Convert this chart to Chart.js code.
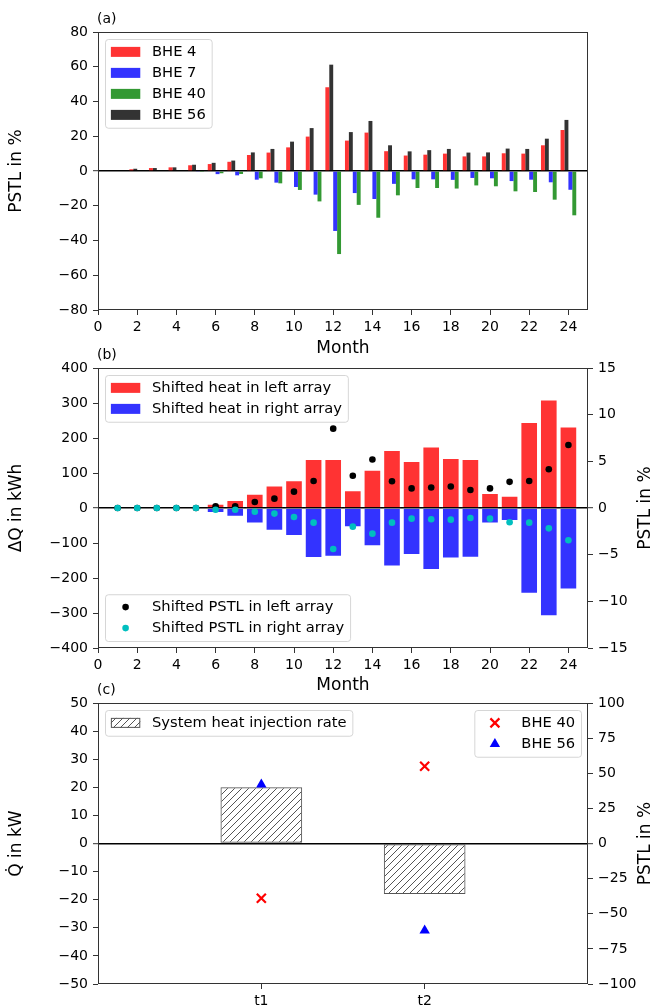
<!DOCTYPE html>
<html>
<head>
<meta charset="utf-8">
<script src="https://cdn.jsdelivr.net/npm/chart.js@4"></script>
<style>
  html, body { margin: 0; padding: 0; background: #fff; }
  #page { position: relative; width: 660px; height: 1005px; }
  .panel { position: absolute; left: 0; width: 660px; }
</style>
</head>
<body>
<div id="page">
  <div class="panel" style="top:0;height:360px"><canvas id="chart-a"></canvas></div>
  <div class="panel" style="top:340px;height:360px"><canvas id="chart-b"></canvas></div>
  <div class="panel" style="top:680px;height:325px"><canvas id="chart-c"></canvas></div>
</div>
<script>
// (a) PSTL per BHE and month
const months = [1, 2, 3, 4, 5, 6, 7, 8, 9, 10, 11, 12, 13, 14, 15, 16, 17, 18, 19, 20, 21, 22, 23, 24];
const bhe4 = [0, 1.0, 1.7, 2.1, 3.3, 4.0, 5.3, 9.2, 10.6, 13.6, 19.8, 48.2, 17.5, 22.1, 11.4, 8.9, 9.4, 10.0, 8.4, 8.4, 10.2, 10.0, 14.8, 23.6];
const bhe7 = [0, 0, 0, 0, -0.5, -1.8, -2.5, -5.0, -6.7, -9.2, -13.6, -34.5, -12.7, -16.1, -7.4, -4.8, -4.8, -5.1, -4.0, -4.2, -5.8, -5.0, -6.5, -10.8];
const bhe40 = [0, 0, 0, 0, -0.2, -1.3, -1.7, -4.2, -7.1, -10.9, -17.5, -47.8, -19.5, -26.9, -14.0, -9.8, -9.8, -10.1, -8.3, -8.8, -11.7, -12.1, -16.5, -25.5];
const bhe56 = [0, 1.3, 1.7, 2.1, 3.6, 4.7, 6.0, 10.7, 12.7, 16.9, 24.7, 61.2, 22.4, 28.8, 14.8, 11.3, 12.0, 12.7, 10.6, 10.7, 12.9, 12.7, 18.6, 29.4];

// (b) shifted heat (kWh) and shifted PSTL (%)
const heatLeft = [0, 0, 0, 0, 0, 12, 23, 41, 64, 79, 140, 140, 51, 109, 166, 134, 176, 143, 140, 43, 35, 246, 310, 233];
const heatRight = [0, 0, 0, 0, 0, -14, -25, -44, -65, -80, -143, -139, -55, -109, -167, -134, -177, -144, -142, -44, -37, -245, -309, -233];
const pstlLeft = [0, 0, 0, 0, 0, 0.18, 0.18, 0.64, 1.0, 1.75, 2.9, 8.5, 3.46, 5.2, 2.86, 2.1, 2.2, 2.3, 1.93, 2.1, 2.8, 2.9, 4.15, 6.75];
const pstlRight = [0, 0, 0, 0, 0, -0.18, -0.18, -0.4, -0.6, -0.96, -1.57, -4.4, -2.0, -2.75, -1.57, -1.14, -1.2, -1.25, -1.07, -1.14, -1.53, -1.57, -2.18, -3.46];

// (c) system heat injection rate (kW) and PSTL (%)
const times = ["t1", "t2"];
const heatRate = [20, -18];
const pstlBhe40 = [-39, 55];
const pstlBhe56 = [42, -62];

const FONT = '"DejaVu Sans", sans-serif';
Chart.defaults.font.family = FONT;
Chart.defaults.font.size = 14;
Chart.defaults.color = "#000";
Chart.defaults.animation = false;

const RED = "rgba(255,0,0,0.8)";
const BLUE = "rgba(0,0,255,0.8)";
const GREEN = "rgba(0,128,0,0.8)";
const BLACK = "rgba(0,0,0,0.8)";
const CYAN = "#00bfbf";

const points = (xs, ys) => xs.map((x, i) => ({ x: x, y: ys[i] }));
const minus = (v) => String(v).replace("-", "\u2212");

function hatchPattern() {
    const c = document.createElement("canvas");
    c.width = 7;
    c.height = 7;
    const g = c.getContext("2d");
    g.strokeStyle = "#555";
    g.lineWidth = 1;
    g.beginPath();
    g.moveTo(0, 7); g.lineTo(7, 0);
    g.moveTo(-1, 1); g.lineTo(1, -1);
    g.moveTo(6, 8); g.lineTo(8, 6);
    g.stroke();
    return g.createPattern(c, "repeat");
}
const HATCH = hatchPattern();

function valueAxis(o) {
    const right = o.position === "right";
    return {
        type: "linear",
        position: right ? "right" : "left",
        min: o.min,
        max: o.max,
        afterFit: (s) => { s.width = right ? 72 : 98; },
        border: { display: false },
        grid: {
            drawOnChartArea: !right,
            color: (c) => (c.tick && c.tick.value === 0 ? "#000" : "rgba(0,0,0,0)"),
            lineWidth: (c) => (c.tick && c.tick.value === 0 ? 1.4 : 1),
            tickLength: 5,
            tickColor: "#333",
            tickWidth: 1,
        },
        ticks: { stepSize: o.step, padding: 5, callback: minus },
        title: {
            display: !right,
            text: o.title || "",
            font: { size: 17 },
            padding: { top: 6, bottom: 0 },
        },
    };
}

function monthAxis(height, titlePad) {
    return {
        type: "linear",
        min: 0,
        max: 25,
        offset: false,
        afterFit: (s) => { s.height = height; },
        border: { display: false },
        grid: { drawOnChartArea: false, offset: false, tickLength: 5, color: "#333" },
        ticks: { stepSize: 2, includeBounds: false, padding: 4, maxRotation: 0, autoSkip: false },
        title: { display: true, text: "Month", font: { size: 17 }, padding: { top: 0, bottom: titlePad } },
    };
}

function roundedBox(ctx, x, y, w, h, r) {
    ctx.beginPath();
    ctx.moveTo(x + r, y);
    ctx.lineTo(x + w - r, y);
    ctx.arcTo(x + w, y, x + w, y + r, r);
    ctx.lineTo(x + w, y + h - r);
    ctx.arcTo(x + w, y + h, x + w - r, y + h, r);
    ctx.lineTo(x + r, y + h);
    ctx.arcTo(x, y + h, x, y + h - r, r);
    ctx.lineTo(x, y + r);
    ctx.arcTo(x, y, x + r, y, r);
    ctx.closePath();
}

function drawHandle(ctx, it, hx, cy, hl) {
    const mx = hx + hl / 2;
    ctx.save();
    if (it.kind === "rect") {
        ctx.fillStyle = it.color;
        ctx.fillRect(hx, cy - 5, hl, 10);
    } else if (it.kind === "hatch") {
        ctx.fillStyle = HATCH;
        ctx.fillRect(hx, cy - 5, hl, 10);
        ctx.strokeStyle = "#555";
        ctx.strokeRect(hx + 0.5, cy - 4.5, hl - 1, 9);
    } else if (it.kind === "circle") {
        ctx.fillStyle = it.color;
        ctx.beginPath();
        ctx.arc(mx, cy, 3.3, 0, Math.PI * 2);
        ctx.fill();
    } else if (it.kind === "cross") {
        ctx.strokeStyle = it.color;
        ctx.lineWidth = 2.2;
        ctx.beginPath();
        ctx.moveTo(mx - 4.5, cy - 4.5); ctx.lineTo(mx + 4.5, cy + 4.5);
        ctx.moveTo(mx - 4.5, cy + 4.5); ctx.lineTo(mx + 4.5, cy - 4.5);
        ctx.stroke();
    } else if (it.kind === "triangle") {
        ctx.fillStyle = it.color;
        ctx.beginPath();
        ctx.moveTo(mx, cy - 6);
        ctx.lineTo(mx + 5.2, cy + 3);
        ctx.lineTo(mx - 5.2, cy + 3);
        ctx.closePath();
        ctx.fill();
    }
    ctx.restore();
}

function drawLegend(ctx, area, box) {
    const fs = 14.7, row = 14, em = 14.7;
    ctx.font = fs + "px " + FONT;
    const textW = Math.max(...box.items.map((it) => ctx.measureText(it.label).width));
    const pad = 0.4 * em, hl = 2 * em, htp = 0.8 * em, gap = 7;
    const w = 2 * pad + hl + htp + textW;
    const h = 2 * pad + box.items.length * row + (box.items.length - 1) * gap;
    const x = box.corner.endsWith("right") ? area.right - 7 - w : area.left + 7;
    const y = box.corner.startsWith("lower") ? area.bottom - 7 - h : area.top + 7;
    roundedBox(ctx, x + 0.5, y + 0.5, w, h, 3);
    ctx.fillStyle = "rgba(255,255,255,0.8)";
    ctx.fill();
    ctx.strokeStyle = "rgba(204,204,204,0.8)";
    ctx.lineWidth = 1;
    ctx.stroke();
    box.items.forEach((it, i) => {
        const cy = y + pad + i * (row + gap) + row / 2;
        drawHandle(ctx, it, x + pad, cy, hl);
        ctx.fillStyle = "#000";
        ctx.textBaseline = "middle";
        ctx.textAlign = "left";
        ctx.fillText(it.label, x + pad + hl + htp, cy);
    });
}

// frame, panel tag, right axis title and the legends inside the axes
const decor = {
    id: "decor",
    afterDraw(chart, args, opts) {
        const { ctx, chartArea: a } = chart;
        ctx.save();
        ctx.strokeStyle = "#333";
        ctx.lineWidth = 1;
        ctx.strokeRect(a.left + 0.5, a.top + 0.5, a.width - 1, a.height - 1);

        ctx.fillStyle = "#000";
        ctx.font = "14px " + FONT;
        ctx.textAlign = "left";
        ctx.textBaseline = "alphabetic";
        ctx.fillText(opts.tag, a.left - 1, a.top - 9);

        if (opts.rightTitle) {
            ctx.save();
            ctx.font = "17px " + FONT;
            ctx.translate(a.right + 58, a.top + a.height / 2);
            ctx.rotate(-Math.PI / 2);
            ctx.textAlign = "center";
            ctx.textBaseline = "middle";
            ctx.fillText(opts.rightTitle, 0, 0);
            ctx.restore();
        }
        (opts.legends || []).forEach((box) => drawLegend(ctx, a, box));
        ctx.restore();
    },
};

const common = {
    responsive: true,
    maintainAspectRatio: false,
    events: [],
};

new Chart(document.getElementById("chart-a"), {
    type: "bar",
    data: {
        datasets: [
            { label: "BHE 4", data: points(months, bhe4), backgroundColor: RED },
            { label: "BHE 56", data: points(months, bhe56), backgroundColor: BLACK },
            { label: "BHE 7", data: points(months, bhe7), backgroundColor: BLUE },
            { label: "BHE 40", data: points(months, bhe40), backgroundColor: GREEN },
        ],
    },
    options: {
        ...common,
        layout: { padding: { top: 32, right: 72, left: 0, bottom: 0 } },
        datasets: { bar: { categoryPercentage: 0.8, barPercentage: 1 } },
        scales: {
            x: monthAxis(50, 1),
            y: valueAxis({ min: -80, max: 80, step: 20, title: "PSTL in %" }),
        },
        plugins: {
            legend: { display: false },
            tooltip: { enabled: false },
            decor: {
                tag: "(a)",
                legends: [
                    {
                        corner: "upper left",
                        items: [
                            { label: "BHE 4", kind: "rect", color: RED },
                            { label: "BHE 7", kind: "rect", color: BLUE },
                            { label: "BHE 40", kind: "rect", color: GREEN },
                            { label: "BHE 56", kind: "rect", color: BLACK },
                        ],
                    },
                ],
            },
        },
    },
    plugins: [decor],
});

new Chart(document.getElementById("chart-b"), {
    type: "bar",
    data: {
        datasets: [
            { type: "scatter", label: "Shifted PSTL in right array", data: points(months, pstlRight), yAxisID: "y1", backgroundColor: CYAN, pointRadius: 3.3, borderWidth: 0, order: 0 },
            { type: "scatter", label: "Shifted PSTL in left array", data: points(months, pstlLeft), yAxisID: "y1", backgroundColor: "#000", pointRadius: 3.3, borderWidth: 0, order: 1 },
            { label: "Shifted heat in left array", data: points(months, heatLeft), backgroundColor: RED, borderColor: "#fff", borderWidth: 1, grouped: false, order: 2 },
            { label: "Shifted heat in right array", data: points(months, heatRight), backgroundColor: BLUE, borderColor: "#fff", borderWidth: 1, grouped: false, order: 3 },
        ],
    },
    options: {
        ...common,
        layout: { padding: { top: 28, right: 0, left: 0, bottom: 0 } },
        datasets: { bar: { categoryPercentage: 1, barPercentage: 0.9 } },
        scales: {
            x: monthAxis(52, 4),
            y: valueAxis({ min: -400, max: 400, step: 100, title: "ΔQ in kWh" }),
            y1: valueAxis({ min: -15, max: 15, step: 5, position: "right" }),
        },
        plugins: {
            legend: { display: false },
            tooltip: { enabled: false },
            decor: {
                tag: "(b)",
                rightTitle: "PSTL in %",
                legends: [
                    {
                        corner: "upper left",
                        items: [
                            { label: "Shifted heat in left array", kind: "rect", color: RED },
                            { label: "Shifted heat in right array", kind: "rect", color: BLUE },
                        ],
                    },
                    {
                        corner: "lower left",
                        items: [
                            { label: "Shifted PSTL in left array", kind: "circle", color: "#000" },
                            { label: "Shifted PSTL in right array", kind: "circle", color: CYAN },
                        ],
                    },
                ],
            },
        },
    },
    plugins: [decor],
});

const timeIdx = times.map((t, i) => i + 1);

new Chart(document.getElementById("chart-c"), {
    type: "bar",
    data: {
        datasets: [
            { type: "scatter", label: "BHE 40", data: points(timeIdx, pstlBhe40), yAxisID: "y1", pointStyle: "crossRot", pointRadius: 6.4, borderColor: "#ff0000", borderWidth: 2.2, order: 0 },
            { type: "scatter", label: "BHE 56", data: points(timeIdx, pstlBhe56), yAxisID: "y1", pointStyle: "triangle", pointRadius: 6, backgroundColor: "#0000ff", borderColor: "#0000ff", borderWidth: 0, order: 1 },
            { label: "System heat injection rate", data: points(timeIdx, heatRate), backgroundColor: HATCH, borderColor: "#555", borderWidth: 1, borderSkipped: false, order: 2 },
        ],
    },
    options: {
        ...common,
        layout: { padding: { top: 23, right: 0, left: 0, bottom: 0 } },
        datasets: { bar: { categoryPercentage: 0.5, barPercentage: 1 } },
        scales: {
            x: {
                type: "linear",
                min: 0,
                max: times.length + 1,
                offset: false,
                afterFit: (s) => { s.height = 21; },
                afterBuildTicks: (s) => { s.ticks = timeIdx.map((v) => ({ value: v })); },
                border: { display: false },
                grid: { drawOnChartArea: false, offset: false, tickLength: 5, color: "#333" },
                ticks: { padding: 4, maxRotation: 0, autoSkip: false, callback: (v) => times[v - 1] },
            },
            y: valueAxis({ min: -50, max: 50, step: 10, title: "Q\u0307 in kW" }),
            y1: valueAxis({ min: -100, max: 100, step: 25, position: "right" }),
        },
        plugins: {
            legend: { display: false },
            tooltip: { enabled: false },
            decor: {
                tag: "(c)",
                rightTitle: "PSTL in %",
                legends: [
                    {
                        corner: "upper left",
                        items: [{ label: "System heat injection rate", kind: "hatch" }],
                    },
                    {
                        corner: "upper right",
                        items: [
                            { label: "BHE 40", kind: "cross", color: "#ff0000" },
                            { label: "BHE 56", kind: "triangle", color: "#0000ff" },
                        ],
                    },
                ],
            },
        },
    },
    plugins: [decor],
});
</script>
</body>
</html>
